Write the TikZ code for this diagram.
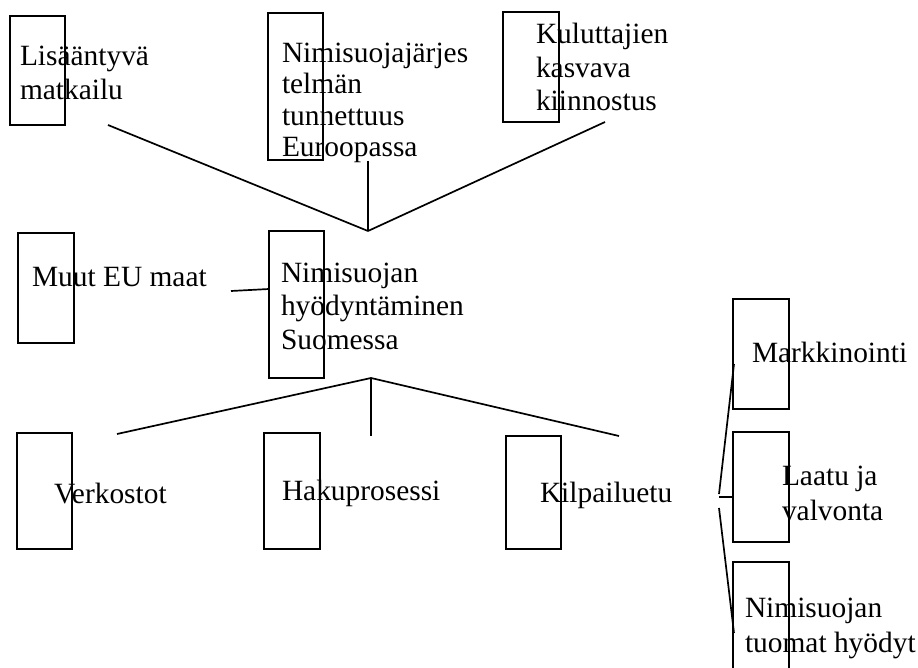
\documentclass[tikz,border=0pt]{standalone}
\usepackage{fontspec}
\setmainfont{Liberation Serif}
\begin{document}
\begin{tikzpicture}[x=1pt,y=-1pt,
  boxstyle/.style={draw=black,line width=1.7pt},
  lbl/.style={anchor=base west,inner sep=0pt,outer sep=0pt,font=\fontsize{29.4}{33}\selectfont},
  conn/.style={draw=black,line width=1.7pt}]
\useasboundingbox (0,0) rectangle (918,668);
\clip (0,0) rectangle (918,668);
\fill[white] (0,0) rectangle (918,668);
% boxes
\path[boxstyle] (10,16) rectangle (65,125) coordinate (boxA);
\path[boxstyle] (268,13) rectangle (323,160) coordinate (boxB);
\path[boxstyle] (503,12) rectangle (559,122) coordinate (boxC);
\path[boxstyle] (18,233) rectangle (74,343) coordinate (boxD);
\path[boxstyle] (269,231) rectangle (324,378) coordinate (boxE);
\path[boxstyle] (17,433) rectangle (72,549) coordinate (boxF);
\path[boxstyle] (264,433) rectangle (320,549) coordinate (boxG);
\path[boxstyle] (506,436) rectangle (561,549) coordinate (boxH);
\path[boxstyle] (733,299) rectangle (789,409) coordinate (boxI);
\path[boxstyle] (733,432) rectangle (789,542) coordinate (boxJ);
\path[boxstyle] (733,562) rectangle (789,700) coordinate (boxK);
% texts
\node[lbl] (a1) at (20,66) {Lisääntyvä};
\node[lbl] (a2) at (20,100) {matkailu};
\node[lbl] (b1) at (282,63) {Nimisuojajärjes};
\node[lbl] (b2) at (282,94) {telmän};
\node[lbl] (b3) at (282,126) {tunnettuus};
\node[lbl] (b4) at (282,157) {Euroopassa};
\node[lbl] (c1) at (536,44) {Kuluttajien};
\node[lbl] (c2) at (536,78) {kasvava};
\node[lbl] (c3) at (536,111) {kiinnostus};
\node[lbl] (d1) at (32,287) {Muut EU maat};
\node[lbl] (e1) at (281,283) {Nimisuojan};
\node[lbl] (e2) at (281,316) {hyödyntäminen};
\node[lbl] (e3) at (281,349) {Suomessa};
\node[lbl] (f1) at (54,503) {Verkostot};
\node[lbl] (g1) at (282,500) {Hakuprosessi};
\node[lbl] (h1) at (540,502) {Kilpailuetu};
\node[lbl] (i1) at (752,362) {Markkinointi};
\node[lbl] (j1) at (782,485) {Laatu ja};
\node[lbl] (j2) at (782,520) {valvonta};
\node[lbl] (k1) at (745,617) {Nimisuojan};
\node[lbl] (k2) at (745,652) {tuomat hyödyt};
% connector points
\coordinate (t1) at (108,125);
\coordinate (t2) at (368,161);
\coordinate (t3) at (605,122);
\coordinate (hub) at (368,231);
\coordinate (m1) at (231,291);
\coordinate (m2) at (269,289);
\coordinate (apex) at (371,378);
\coordinate (q1) at (117,434);
\coordinate (q2) at (371,436);
\coordinate (q3) at (619,436);
\coordinate (p1) at (719,494);
\coordinate (p2) at (734,364);
\coordinate (p3) at (719,497);
\coordinate (p4) at (733,497);
\coordinate (p5) at (719,508);
\coordinate (p6) at (734,633);
% connectors
\draw[conn] (t1) -- (hub);
\draw[conn] (t2) -- (hub);
\draw[conn] (t3) -- (hub);
\draw[conn] (m1) -- (m2);
\draw[conn] (apex) -- (q1);
\draw[conn] (apex) -- (q2);
\draw[conn] (apex) -- (q3);
\draw[conn] (p1) -- (p2);
\draw[conn] (p3) -- (p4);
\draw[conn] (p5) -- (p6);
\end{tikzpicture}
\end{document}
